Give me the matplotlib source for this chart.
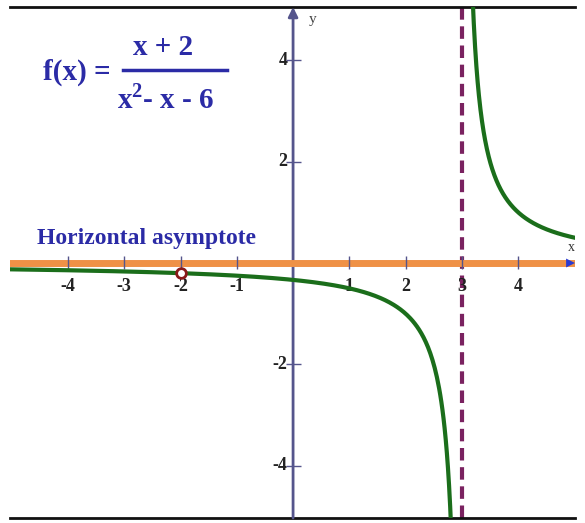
#!/usr/bin/env python3
# graph of a rational function with its asymptotes and a hole
import numpy as np
import matplotlib.pyplot as plt

# f(x) = (x + 2) / (x^2 - x - 6)
numerator = [1, 2]
denominator = [1, -1, -6]
vertical_asymptote = 3
horizontal_asymptote = 0
hole_x = -2
hole_y = -0.2

xticks = [-4, -3, -2, -1, 1, 2, 3, 4]
yticks = [-4, -2, 2, 4]
xlim = (-5.03, 5.01)
ylim = (-5.03, 5.05)

serif = 'Liberation Serif'
blue = '#2b2ba6'
axis_col = '#55558c'

plt.rcParams['mathtext.fontset'] = 'custom'
plt.rcParams['mathtext.rm'] = 'Liberation Serif:bold'
plt.rcParams['mathtext.bf'] = 'Liberation Serif:bold'

fig = plt.figure(figsize=(5.85, 5.23), dpi=100)
ax = fig.add_axes([10 / 585, 5 / 523, 565 / 585, 511 / 523])
ax.set_xlim(*xlim)
ax.set_ylim(*ylim)
ax.set_xticks([])
ax.set_yticks([])
for s in ('left', 'right'):
    ax.spines[s].set_visible(False)
for s in ('top', 'bottom'):
    ax.spines[s].set_linewidth(2)
    ax.spines[s].set_color('#111111')

# y axis with arrow
ax.annotate('', xy=(0, ylim[1]), xytext=(0, ylim[0]),
            arrowprops=dict(arrowstyle='-|>', color=axis_col, lw=2,
                            mutation_scale=14, shrinkA=0, shrinkB=0))
# horizontal asymptote (on top of x axis) with arrow head
ax.axhline(horizontal_asymptote, color='#ef9146', lw=5, zorder=3)
ax.annotate('', xy=(xlim[1], 0), xytext=(xlim[1] - 0.3, 0),
            arrowprops=dict(arrowstyle='-|>', color='#2a3ad0', lw=0,
                            mutation_scale=16, shrinkA=0, shrinkB=0),
            zorder=4)

# tick marks
ax.vlines(xticks, -0.12, 0.14, color=axis_col, lw=1, zorder=4)
ax.hlines(yticks, -0.12, 0.14, color=axis_col, lw=1, zorder=4)
for t in xticks:
    ax.text(t, -0.46, str(t), ha='center', va='center', family=serif,
            fontweight='bold', fontsize=13, color='#222222')
for t in yticks:
    ax.text(-0.1, t, str(t), ha='right', va='center', family=serif,
            fontweight='bold', fontsize=13, color='#222222')
ax.text(4.95, 0.3, 'x', ha='center', va='center', family=serif,
        fontsize=10, color='#333333')
ax.text(0.35, 4.8, 'y', ha='center', va='center', family=serif,
        fontsize=11, color='#444444')

# vertical asymptote
ax.axvline(vertical_asymptote, color='#7a2260', lw=3, ls=(0, (3, 1.6)), zorder=2)

# the curve, split at the vertical asymptote
eps = 1 / 5.3
x_left = np.linspace(xlim[0], vertical_asymptote - eps, 400)
x_right = np.linspace(vertical_asymptote + eps, xlim[1], 400)
for xs in (x_left, x_right):
    ys = np.polyval(numerator, xs) / np.polyval(denominator, xs)
    ax.plot(xs, ys, color='#1b6e1b', lw=3, zorder=5)

# hole
ax.plot(hole_x, hole_y, 'o', ms=7, mfc='white', mec='#8a1a1a', mew=2, zorder=6)

ax.text(-2.61, 0.49, 'Horizontal asymptote', ha='center', va='center',
        family=serif, fontweight='bold', fontsize=17, color=blue)

# formula
ax.text(-3.25, 3.77, 'f(x) =', ha='right', va='center', family=serif,
        fontweight='bold', fontsize=21, color=blue)
ax.text(-2.31, 4.26, 'x + 2', ha='center', va='center', family=serif,
        fontweight='bold', fontsize=21, color=blue)
ax.plot([-3.02, -1.17], [3.8, 3.8], color=blue, lw=2.5)
ax.text(-2.27, 3.23, r'x$^{\mathbf{2}}$- x - 6', ha='center', va='center',
        family=serif, fontweight='bold', fontsize=21, color=blue)

fig.savefig('out.png', dpi=100)
